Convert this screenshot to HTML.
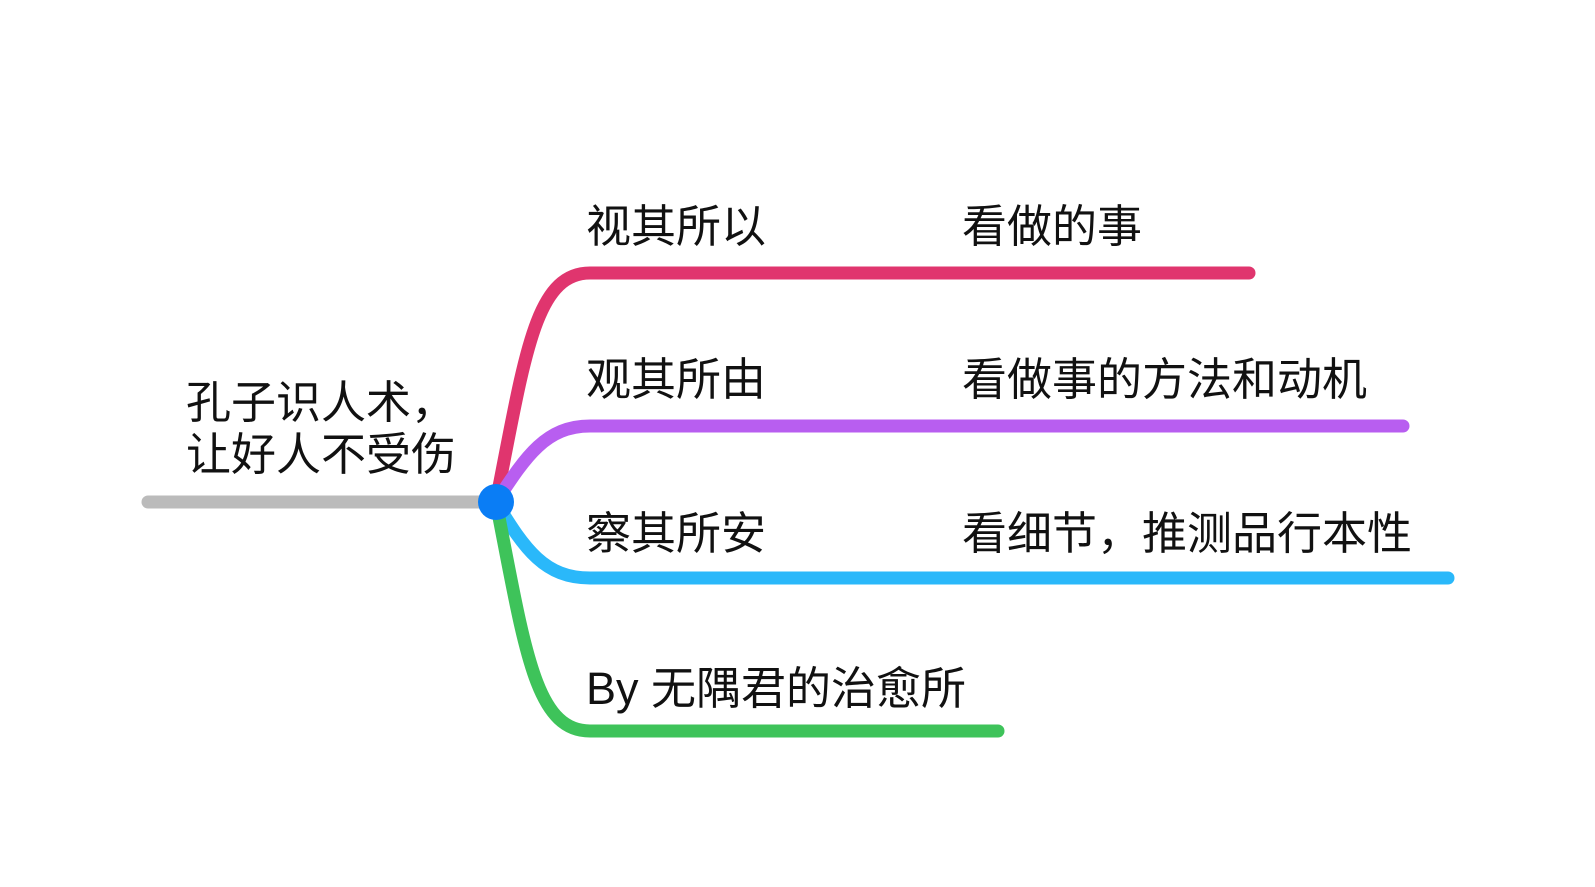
<!DOCTYPE html>
<html><head><meta charset="utf-8"><style>
html,body{margin:0;padding:0;background:#fff;}
svg text{font-family:"Liberation Sans","Noto Sans CJK SC",sans-serif;font-size:45px;fill:#111;}
</style></head><body>
<svg width="1595" height="882" viewBox="0 0 1595 882" xmlns="http://www.w3.org/2000/svg">
<g fill="none" stroke-width="13" stroke-linecap="round">
<line x1="148" y1="502" x2="496" y2="502" stroke="#bbbbbb"/>
<path d="M496,502 C525,355 535,273 590,273 L1249,273" stroke="#e0356e"/>
<path d="M496,502 C525,458 545,426 590,426 L1403,426" stroke="#b85ef0"/>
<path d="M496,502 C525,550 545,578 590,578 L1448,578" stroke="#2ab8fa"/>
<path d="M496,502 C525,650 535,731 590,731 L998,731" stroke="#3ec35a"/>
</g>
<circle cx="496" cy="502" r="18" fill="#0a7df5"/>
<text x="186" y="418">孔子识人术，</text>
<text x="186" y="470">让好人不受伤</text>
<text x="586" y="242">视其所以</text>
<text x="962" y="242">看做的事</text>
<text x="586" y="395">观其所由</text>
<text x="962" y="395">看做事的方法和动机</text>
<text x="586" y="549">察其所安</text>
<text x="962" y="549">看细节，推测品行本性</text>
<text x="586" y="704">By 无隅君的治愈所</text>
</svg>
</body></html>
